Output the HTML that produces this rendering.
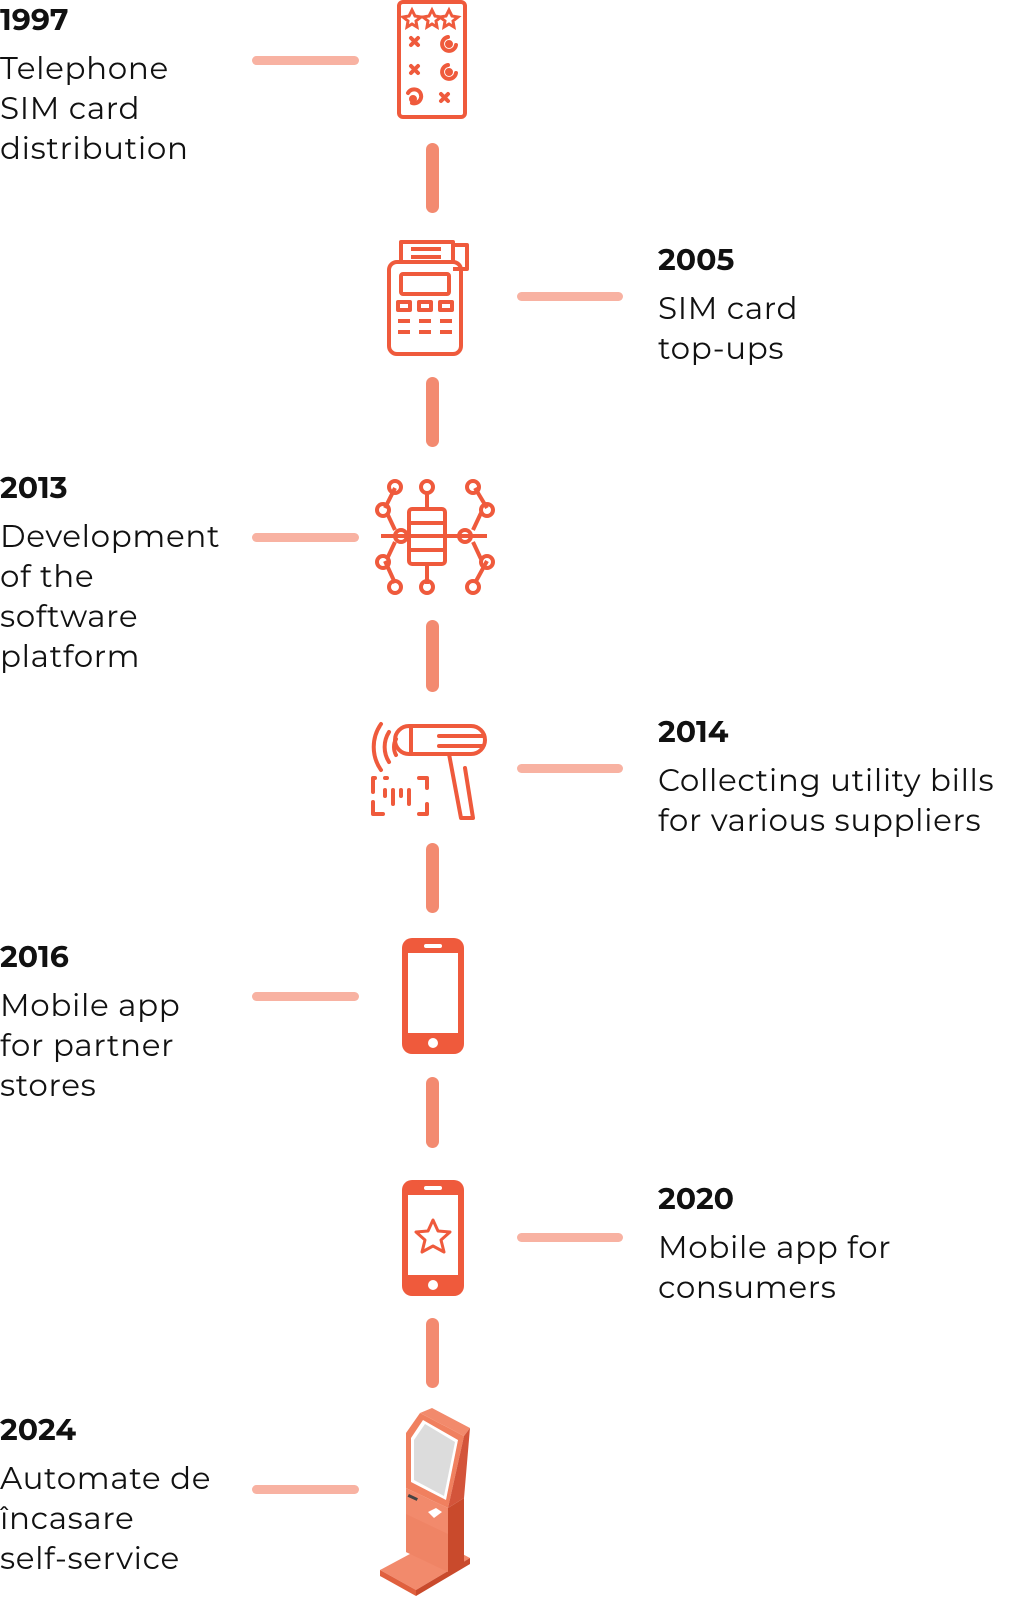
<!DOCTYPE html>
<html><head><meta charset="utf-8"><style>
body{margin:0;width:1028px;height:1600px;background:#fff;position:relative;overflow:hidden;font-family:"Montserrat","Liberation Sans",sans-serif;color:#111}
.t{position:absolute;font-size:31px;line-height:40px;letter-spacing:0.65px}
.t b{display:block;font-size:30px;line-height:36px;font-weight:700;letter-spacing:0;margin-bottom:10px}
.h{position:absolute;height:9px;border-radius:5px;background:#f8b2a2}
.v{position:absolute;left:426px;width:13px;border-radius:7px;background:#f38a70}
svg{position:absolute}
</style></head><body>
<div class="t" style="left:0;top:2px"><b>1997</b>Telephone<br>SIM card<br>distribution</div>
<div class="t" style="left:658px;top:242px"><b>2005</b>SIM card<br>top-ups</div>
<div class="t" style="left:0;top:470px"><b>2013</b>Development<br>of the<br>software<br>platform</div>
<div class="t" style="left:658px;top:714px"><b>2014</b>Collecting utility bills<br>for various suppliers</div>
<div class="t" style="left:0;top:939px"><b>2016</b>Mobile app<br>for partner<br>stores</div>
<div class="t" style="left:658px;top:1181px"><b>2020</b>Mobile app for<br>consumers</div>
<div class="t" style="left:0;top:1412px"><b>2024</b>Automate de<br>încasare<br>self-service</div>

<div class="h" style="left:252px;top:56px;width:107px"></div>
<div class="h" style="left:517px;top:292px;width:106px"></div>
<div class="h" style="left:252px;top:533px;width:107px"></div>
<div class="h" style="left:517px;top:764px;width:106px"></div>
<div class="h" style="left:252px;top:992px;width:107px"></div>
<div class="h" style="left:517px;top:1233px;width:106px"></div>
<div class="h" style="left:252px;top:1485px;width:107px"></div>

<div class="v" style="top:143px;height:70px"></div>
<div class="v" style="top:377px;height:70px"></div>
<div class="v" style="top:620px;height:72px"></div>
<div class="v" style="top:843px;height:70px"></div>
<div class="v" style="top:1077px;height:71px"></div>
<div class="v" style="top:1318px;height:70px"></div>

<svg style="left:396px;top:0" width="72" height="120" viewBox="0 0 72 120" fill="none" stroke="#ef5a3c" stroke-width="4" stroke-linecap="round">
<rect x="3" y="2" width="66" height="115" rx="4"/>
<path d="M16 10l3 6 6 1-5 4 1 6-5-3-5 3 1-6-5-4 6-1z M36 10l3 6 6 1-5 4 1 6-5-3-5 3 1-6-5-4 6-1z M53 10l3 6 6 1-5 4 1 6-5-3-5 3 1-6-5-4 6-1z" stroke-width="3"/>
<path d="M15 38l7 7M22 38l-7 7M15 66l7 7M22 66l-7 7M45 94l7 7M52 94l-7 7"/>
<path d="M52 37a7 7 0 1 0 8 8M52 65a7 7 0 1 0 8 8M16 103a7 7 0 1 0-4-10"/>
<circle cx="53" cy="44" r="2" fill="#ef5a3c"/><circle cx="53" cy="72" r="2" fill="#ef5a3c"/><circle cx="17" cy="99" r="2" fill="#ef5a3c"/>
</svg>
<svg style="left:386px;top:237px" width="92" height="120" viewBox="0 0 92 120" fill="none" stroke="#ef5a3c" stroke-width="4" stroke-linejoin="round">
<rect x="3" y="25" width="72" height="92" rx="8"/>
<path d="M15 25V5h52v20M67 8h14v24h-14"/>
<path d="M25 12h30M25 20h30"/>
<rect x="15" y="37" width="48" height="20" rx="2"/>
<rect x="12" y="65" width="12" height="8"/><rect x="33" y="65" width="12" height="8"/><rect x="54" y="65" width="12" height="8"/>
<path d="M12 84h12M33 84h12M54 84h12M12 95h12M33 95h12M54 95h12"/>
</svg>
<svg style="left:373px;top:479px" width="122" height="120" viewBox="0 0 122 120" fill="none" stroke="#ef5a3c" stroke-width="4">
<rect x="36" y="30" width="36" height="55" rx="3"/>
<path d="M36 44h36M36 57h36M36 71h36M54 14v16M54 85v20M8 57h28M72 57h42M22 9l-10 20M102 9l12 20M12 82l10 22M114 82l-12 22M14 34l8 17M108 34l-8 17M14 80l8-17M108 80l-8-17"/>
<circle cx="22" cy="8" r="6"/><circle cx="54" cy="8" r="6"/><circle cx="100" cy="8" r="6"/>
<circle cx="10" cy="31" r="6"/><circle cx="114" cy="31" r="6"/>
<circle cx="28" cy="57" r="6"/><circle cx="92" cy="57" r="6"/>
<circle cx="10" cy="83" r="6"/><circle cx="114" cy="83" r="6"/>
<circle cx="22" cy="108" r="6"/><circle cx="54" cy="108" r="6"/><circle cx="100" cy="108" r="6"/>
</svg>
<svg style="left:369px;top:718px" width="124" height="106" viewBox="0 0 124 106" fill="none" stroke="#ef5a3c" stroke-width="4" stroke-linecap="round" stroke-linejoin="round">
<path d="M12 6a40 40 0 0 0 0 46M20 14a28 28 0 0 0 0 30M27 21a17 17 0 0 0 0 16"/>
<path d="M40 8h62a14 14 0 0 1 0 28h-62a14 14 0 0 1 0-28z M42 8v28M70 18h44M70 28h44"/>
<path d="M80 36l12 64h12l-8-50"/>
<path d="M6 60h-2v14M4 84v12h10M50 60h8v10M58 86v10h-8M16 60h2"/>
<path d="M16 72v6M24 72v14M32 72v6M40 72v14"/>
</svg>
<svg style="left:400px;top:936px" width="66" height="120" viewBox="0 0 66 120" fill="none">
<rect x="2" y="2" width="62" height="116" rx="10" fill="#ef5a3c"/>
<rect x="8" y="17" width="50" height="80" fill="#fff"/>
<rect x="24" y="8" width="18" height="4" rx="2" fill="#fff"/>
<circle cx="33" cy="107" r="5" fill="#fff"/>
</svg>
<svg style="left:400px;top:1178px" width="66" height="120" viewBox="0 0 66 120" fill="none">
<rect x="2" y="2" width="62" height="116" rx="10" fill="#ef5a3c"/>
<rect x="8" y="17" width="50" height="80" fill="#fff"/>
<rect x="24" y="8" width="18" height="4" rx="2" fill="#fff"/>
<circle cx="33" cy="107" r="5" fill="#fff"/>
<path d="M33 42l5 11 12 1-9 8 3 12-11-6-11 6 3-12-9-8 12-1z" stroke="#ef5a3c" stroke-width="3" stroke-linejoin="round"/>
</svg>
<svg style="left:378px;top:1408px" width="96" height="190" viewBox="0 0 96 190">
<polygon points="2,162 58,132 92,150 38,182" fill="#f28a6c"/>
<polygon points="2,162 38,182 38,188 2,168" fill="#e0603e"/>
<polygon points="38,182 92,150 92,156 38,188" fill="#c94a2c"/>
<polygon points="28,80 70,100 70,164 28,144" fill="#f28a6c"/>
<polygon points="70,100 86,90 86,154 70,164" fill="#c94a2c"/>
<polygon points="28,25 42,5 86,28 70,100 28,80" fill="#f0805f"/>
<polygon points="42,5 54,0 92,20 86,28" fill="#f28a6c"/>
<polygon points="86,28 92,20 86,90 70,100" fill="#d3543a"/>
<polygon points="33,30 45,12 80,32 68,92 33,74" fill="#fff"/>
<polygon points="36,32 47,16 77,34 66,88 36,72" fill="#dcdcdc"/>
<polygon points="28,106 70,126 70,164 28,144" fill="#ef8465"/>
<rect x="30" y="88" width="10" height="3" fill="#444" transform="rotate(25 35 89)"/>
<polygon points="50,104 58,100 64,104 56,110" fill="#fff"/>
</svg>
</body></html>
